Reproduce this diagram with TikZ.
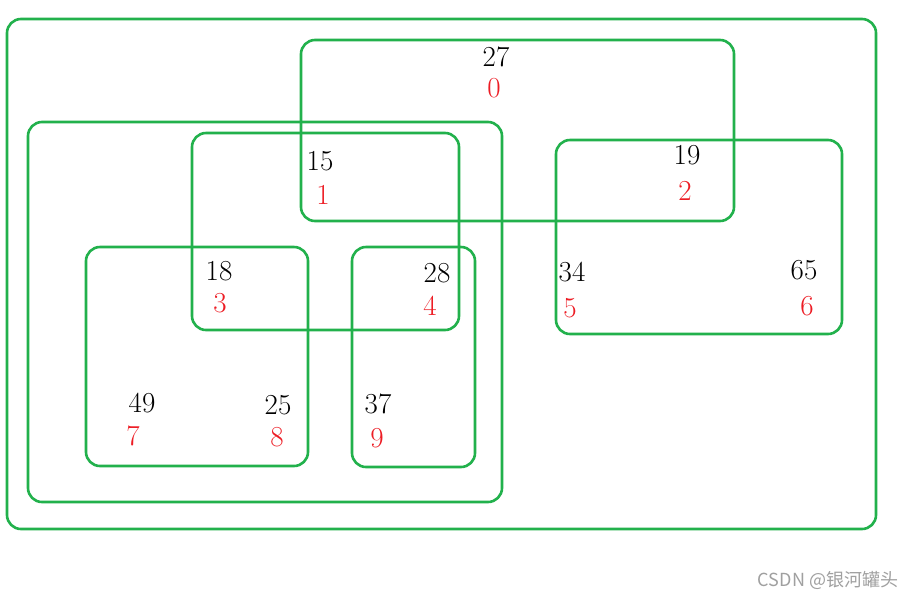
\documentclass[tikz,border=0pt]{standalone}
\usepackage{fontspec}
\newfontfamily\cjkfont{Noto Sans CJK SC}
\definecolor{pgreen}{RGB}{34,177,76}
\definecolor{pred}{RGB}{237,28,36}
\begin{document}
\begin{tikzpicture}[x=1pt,y=-1pt,
  setbox/.style={draw=pgreen,line width=2.6pt,rounded corners=14pt},
  val/.style={font=\fontsize{29}{32}\selectfont,inner sep=0pt,text=black},
  idx/.style={font=\fontsize{29}{32}\selectfont,inner sep=0pt,text=pred}]
\useasboundingbox (0,0) rectangle (912,598);
\fill[white] (0,0) rectangle (912,598);
% sets
\draw[setbox] (7,19) rectangle (876,529);
\draw[setbox] (301,40) rectangle (734,221);
\draw[setbox] (28,122) rectangle (502,502);
\draw[setbox] (192,133) rectangle (459,330);
\draw[setbox] (556,140) rectangle (842,334);
\draw[setbox] (86,247) rectangle (308,466);
\draw[setbox] (352,247) rectangle (475,467);
% values and indices
\node[val] (v27) at (496,57) {27};  \node[idx] (i0) at (494,88) {0};
\node[val] (v15) at (320,161) {15}; \node[idx] (i1) at (323,195) {1};
\node[val] (v19) at (687,155) {19}; \node[idx] (i2) at (685,191) {2};
\node[val] (v18) at (219,271) {18}; \node[idx] (i3) at (220,303) {3};
\node[val] (v28) at (437,273) {28}; \node[idx] (i4) at (430,306) {4};
\node[val] (v34) at (572,272) {34}; \node[idx] (i5) at (570,308) {5};
\node[val] (v65) at (804,270) {65}; \node[idx] (i6) at (807,306) {6};
\node[val] (v49) at (142,403) {49}; \node[idx] (i7) at (133,436) {7};
\node[val] (v25) at (278,405) {25}; \node[idx] (i8) at (277,437) {8};
\node[val] (v37) at (378,404) {37}; \node[idx] (i9) at (377,438) {9};
% watermark
\node[inner sep=0pt,text={rgb,255:red,160;green,160;blue,160},font=\cjkfont\fontsize{18}{21}\selectfont] (wm) at (828,580) {CSDN @银河罐头};
\end{tikzpicture}
\end{document}
